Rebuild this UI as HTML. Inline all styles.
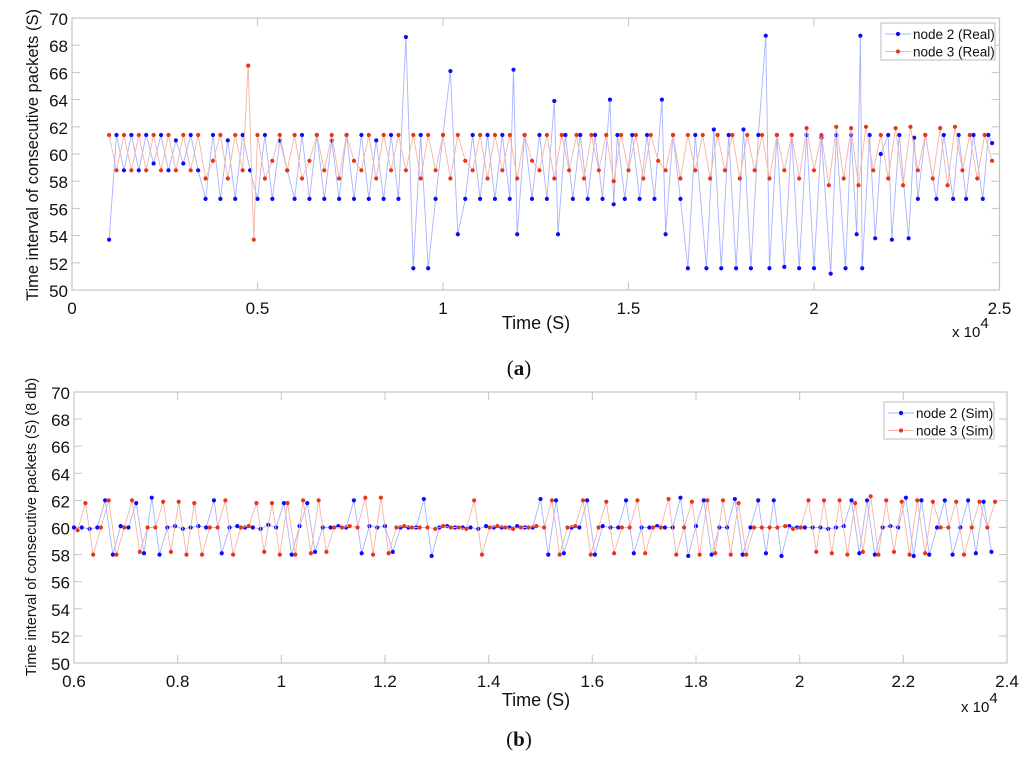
<!DOCTYPE html>
<html><head><meta charset="utf-8">
<style>
html,body{margin:0;padding:0;background:#fff;}
svg{display:block;font-family:"Liberation Sans",sans-serif;}
</style></head>
<body>
<svg id="fig" width="1024" height="769" viewBox="0 0 1024 769" xmlns="http://www.w3.org/2000/svg"></svg>
<script>
// ---------- Panel (a) data: real measurements ----------
const realNode2Times = [0.10,0.12,0.14,0.16,0.18,0.20,0.22,0.24,0.26,0.28,0.30,0.32,0.34,0.36,0.38,0.40,0.42,0.44,0.46,0.48,0.50,0.52,0.54,0.56,0.58,0.60,0.62,0.64,0.66,0.68,0.70,0.72,0.74,0.76,0.78,0.80,0.82,0.84,0.86,0.88,0.90,0.92,0.94,0.96,0.98,1.00,1.02,1.04,1.06,1.08,1.10,1.12,1.14,1.16,1.18,1.19,1.20,1.22,1.24,1.26,1.28,1.30,1.31,1.33,1.35,1.37,1.39,1.41,1.43,1.45,1.46,1.47,1.49,1.51,1.53,1.55,1.57,1.59,1.60,1.62,1.64,1.66,1.68,1.71,1.73,1.75,1.77,1.79,1.81,1.83,1.85,1.87,1.88,1.90,1.92,1.94,1.96,1.98,2.00,2.02,2.045,2.06,2.085,2.10,2.115,2.125,2.13,2.15,2.165,2.18,2.20,2.21,2.23,2.255,2.27,2.28,2.30,2.33,2.35,2.375,2.39,2.41,2.43,2.455,2.47,2.48];
const realNode2Values = [53.7,61.4,58.8,61.4,58.8,61.4,59.3,61.4,58.8,61.0,59.3,61.4,58.8,56.7,61.4,56.7,61.0,56.7,61.4,58.8,56.7,61.4,56.7,61.0,58.8,56.7,61.4,56.7,61.4,56.7,61.0,56.7,61.4,56.7,61.4,56.7,61.0,56.7,61.4,56.7,68.6,51.6,61.4,51.6,56.7,61.4,66.1,54.1,56.7,61.4,56.7,61.4,56.7,61.4,56.7,66.2,54.1,61.4,56.7,61.4,56.7,63.9,54.1,61.4,56.7,61.4,56.7,61.4,56.7,64.0,56.3,61.4,56.7,61.4,56.7,61.4,56.7,64.0,54.1,61.4,56.7,51.6,61.4,51.6,61.8,51.6,61.4,51.6,61.8,51.6,61.4,68.7,51.6,61.4,51.7,61.4,51.6,61.4,51.6,61.2,51.2,61.4,51.6,61.4,54.1,68.7,51.6,61.4,53.8,60.0,61.4,53.7,61.4,53.8,61.2,56.7,61.4,56.7,61.4,56.7,61.4,56.7,61.4,56.7,61.4,60.8];
const realNode3Times = [0.10,0.12,0.14,0.16,0.18,0.20,0.22,0.24,0.26,0.28,0.30,0.32,0.34,0.36,0.38,0.40,0.42,0.44,0.46,0.475,0.49,0.50,0.52,0.54,0.56,0.58,0.60,0.62,0.64,0.66,0.68,0.70,0.72,0.74,0.76,0.78,0.80,0.82,0.84,0.86,0.88,0.90,0.92,0.94,0.96,0.98,1.00,1.02,1.04,1.06,1.08,1.10,1.12,1.14,1.16,1.18,1.20,1.22,1.24,1.26,1.28,1.30,1.32,1.34,1.36,1.38,1.40,1.42,1.44,1.46,1.48,1.50,1.52,1.54,1.56,1.58,1.60,1.62,1.64,1.66,1.68,1.70,1.72,1.74,1.76,1.78,1.80,1.82,1.84,1.86,1.88,1.90,1.92,1.94,1.96,1.98,2.00,2.02,2.04,2.06,2.08,2.10,2.12,2.14,2.16,2.18,2.20,2.22,2.24,2.26,2.28,2.30,2.32,2.34,2.36,2.38,2.40,2.42,2.44,2.46,2.48];
const realNode3Values = [61.4,58.8,61.4,58.8,61.4,58.8,61.4,58.8,61.4,58.8,61.4,58.8,61.4,58.2,59.5,61.4,58.2,61.4,58.8,66.5,53.7,61.4,58.2,59.5,61.4,58.8,61.4,58.2,59.5,61.4,58.8,61.4,58.2,61.4,59.5,58.8,61.4,58.2,61.4,58.8,61.4,58.8,61.4,58.2,61.4,58.8,61.4,58.2,61.4,59.5,58.8,61.4,58.2,61.4,58.8,61.4,58.2,61.4,59.5,58.8,61.4,58.2,61.4,58.8,61.4,58.2,61.4,58.8,61.4,58.0,61.4,58.8,61.4,58.2,61.4,59.5,58.8,61.4,58.2,61.4,58.8,61.4,58.2,61.4,58.8,61.4,58.2,61.4,58.8,61.4,58.2,61.4,58.8,61.4,58.2,61.9,58.8,61.4,57.7,62.0,58.2,61.9,57.7,62.0,58.8,61.4,58.2,61.9,57.7,62.0,58.8,61.4,58.2,61.9,57.7,62.0,58.8,61.4,58.2,61.4,59.5];
const realXTicks = [0,0.5,1,1.5,2,2.5];
const realXTickLabels = ["0","0.5","1","1.5","2","2.5"];

// ---------- Panel (b) data: simulation ----------
const simNode2Times = [0.600,0.615,0.630,0.645,0.660,0.675,0.690,0.705,0.720,0.735,0.750,0.765,0.780,0.795,0.810,0.825,0.840,0.855,0.870,0.885,0.900,0.915,0.930,0.945,0.960,0.975,0.990,1.005,1.020,1.035,1.050,1.065,1.080,1.095,1.110,1.125,1.140,1.155,1.170,1.185,1.200,1.215,1.230,1.245,1.260,1.275,1.290,1.305,1.320,1.335,1.350,1.365,1.380,1.395,1.410,1.425,1.440,1.455,1.470,1.485,1.500,1.515,1.530,1.545,1.560,1.575,1.590,1.605,1.620,1.635,1.650,1.665,1.680,1.695,1.710,1.725,1.740,1.755,1.770,1.785,1.800,1.815,1.830,1.845,1.860,1.875,1.890,1.905,1.920,1.935,1.950,1.965,1.980,1.995,2.010,2.025,2.040,2.055,2.070,2.085,2.100,2.115,2.130,2.145,2.160,2.175,2.190,2.205,2.220,2.235,2.250,2.265,2.280,2.295,2.310,2.325,2.340,2.355,2.370];
const simNode2Values = [60.0,60.0,59.9,60.0,62.0,58.0,60.1,60.0,61.8,58.1,62.2,58.0,60.0,60.1,59.9,60.0,60.1,60.0,62.0,58.1,60.0,60.1,60.0,60.0,59.9,60.2,60.0,61.8,58.0,60.1,61.8,58.2,60.0,60.0,60.1,60.0,62.0,58.1,60.1,60.0,60.1,58.2,60.0,60.0,60.0,62.1,57.9,60.0,60.1,60.0,60.0,60.0,59.9,60.1,60.0,60.0,60.0,60.1,60.0,60.0,62.1,58.0,62.0,58.1,60.0,60.0,62.0,58.0,60.1,60.0,60.0,62.0,58.1,60.0,60.0,60.1,60.0,60.0,62.2,57.9,60.1,62.0,58.0,60.0,60.0,62.1,58.0,60.0,62.0,58.1,62.0,57.9,60.1,60.0,60.0,60.0,60.0,59.9,60.0,60.1,62.0,58.1,62.0,58.0,60.0,60.1,60.0,62.2,57.9,62.0,58.0,60.0,62.0,58.0,60.0,62.0,58.1,61.9,58.2];
const simNode3Times = [0.607,0.622,0.637,0.652,0.667,0.682,0.697,0.712,0.727,0.742,0.757,0.772,0.787,0.802,0.817,0.832,0.847,0.862,0.877,0.892,0.907,0.922,0.937,0.952,0.967,0.982,0.997,1.012,1.027,1.042,1.057,1.072,1.087,1.102,1.117,1.132,1.147,1.162,1.177,1.192,1.207,1.222,1.237,1.252,1.267,1.282,1.297,1.312,1.327,1.342,1.357,1.372,1.387,1.402,1.417,1.432,1.447,1.462,1.477,1.492,1.507,1.522,1.537,1.552,1.567,1.582,1.597,1.612,1.627,1.642,1.657,1.672,1.687,1.702,1.717,1.732,1.747,1.762,1.777,1.792,1.807,1.822,1.837,1.852,1.867,1.882,1.897,1.912,1.927,1.942,1.957,1.972,1.987,2.002,2.017,2.032,2.047,2.062,2.077,2.092,2.107,2.122,2.137,2.152,2.167,2.182,2.197,2.212,2.227,2.242,2.257,2.272,2.287,2.302,2.317,2.332,2.347,2.362,2.377];
const simNode3Values = [59.8,61.8,58.0,60.0,62.0,58.0,60.0,62.0,58.2,60.0,60.0,61.9,58.2,61.9,58.0,61.8,58.0,60.0,60.0,62.0,58.0,60.0,60.1,61.8,58.2,61.8,58.0,61.8,58.0,62.0,58.1,62.0,58.2,60.0,60.0,60.1,60.0,62.2,58.0,62.2,58.1,60.0,60.1,60.0,60.0,60.0,59.9,60.1,60.0,60.0,59.9,62.0,58.0,60.0,60.1,60.0,59.9,60.0,60.0,60.1,60.0,62.0,58.0,60.0,60.1,62.0,58.0,60.0,61.9,58.1,60.0,60.0,62.0,58.1,60.0,60.0,62.1,58.0,60.0,61.9,58.0,62.0,58.1,62.0,58.0,61.8,58.0,60.0,60.0,60.0,60.0,60.1,59.9,60.0,62.0,58.2,62.0,58.1,62.0,58.0,61.8,58.2,62.3,58.0,62.0,58.2,61.9,58.0,62.0,58.1,61.9,60.0,60.0,61.9,58.0,60.0,61.9,60.0,61.9];
const simXTicks = [0.6,0.8,1,1.2,1.4,1.6,1.8,2,2.2,2.4];
const simXTickLabels = ["0.6","0.8","1","1.2","1.4","1.6","1.8","2","2.2","2.4"];
const yTicks = [50,52,54,56,58,60,62,64,66,68,70];

const NS = "http://www.w3.org/2000/svg";
const svg = document.getElementById('fig');
function mk(tag, attrs, parent, text){
  const e = document.createElementNS(NS, tag);
  for (const k in attrs) e.setAttribute(k, attrs[k]);
  if (text !== undefined) e.textContent = text;
  (parent || svg).appendChild(e);
  return e;
}

function panel(cfg){
  const g = mk('g', {});
  
  
  const xs = t => cfg.x0 + (t - cfg.tmin) / (cfg.tmax - cfg.tmin) * (cfg.x1 - cfg.x0);
  const ys = v => cfg.y1 - (v - 50) / 20 * (cfg.y1 - cfg.y0);
  const frame = mk('rect', {x:cfg.x0, y:cfg.y0, width:cfg.x1-cfg.x0, height:cfg.y1-cfg.y0, fill:'#fff', stroke:'#c4c4c4', 'stroke-width':1.2}, g);
  
  
  // x ticks
  cfg.xticks.forEach((t, i) => {
    const x = xs(t);
    mk('line', {x1:x, x2:x, y1:cfg.y1, y2:cfg.y1-8, stroke:'#c4c4c4'}, g);
    mk('line', {x1:x, x2:x, y1:cfg.y0, y2:cfg.y0+8, stroke:'#c4c4c4'}, g);
    const lb = mk('text', {x:x, y:cfg.y1+24, 'text-anchor':'middle', 'font-size':cfg.tickFont, fill:'#111'}, g, cfg.xlabels[i]);
    
    
  });
  yTicks.forEach(v => {
    const y = ys(v);
    mk('line', {x1:cfg.x0, x2:cfg.x0+8, y1:y, y2:y, stroke:'#c4c4c4'}, g);
    mk('line', {x1:cfg.x1, x2:cfg.x1-8, y1:y, y2:y, stroke:'#c4c4c4'}, g);
    const lb = mk('text', {x:cfg.x0-4, y:y+7, 'text-anchor':'end', 'font-size':cfg.tickFont, fill:'#111'}, g, String(v));
    
    
  });
  // series
  cfg.series.forEach(s => {
    const sg = mk('g', {}, g);
    
    
    const pts = s.t.map((t, i) => xs(t).toFixed(1) + ',' + ys(s.v[i]).toFixed(1)).join(' ');
    mk('polyline', {points:pts, fill:'none', stroke:s.line, 'stroke-width':0.9}, sg);
    s.t.forEach((t, i) => {
      const c = mk('circle', {cx:xs(t), cy:ys(s.v[i]), r:2.1, fill:s.mark}, sg);
      
      
    });
  });
  // legend
  const lg = mk('g', {}, g);
  
  
  const L = cfg.legend;
  mk('rect', {x:L.x, y:L.y, width:L.w, height:L.h, fill:'#fff', stroke:'#bdbdbd'}, lg);
  cfg.series.forEach((s, i) => {
    const yy = L.y + 11 + i * 17.5;
    const le = mk('g', {}, lg);
    
    
    mk('line', {x1:L.x+4, x2:L.x+30, y1:yy, y2:yy, stroke:s.line, 'stroke-width':1}, le);
    mk('circle', {cx:L.x+17, cy:yy, r:2.1, fill:s.mark}, le);
    mk('text', {x:L.x+32, y:yy+5, 'font-size':13.5, fill:'#111'}, le, s.label);
  });
  // axis titles
  const xt = mk('text', {x:cfg.xtitle[0], y:cfg.xtitle[1], 'text-anchor':'middle', 'font-size':18, fill:'#111'}, g, 'Time (S)');
  
  
  const yt = mk('text', {x:0, y:0, 'text-anchor':'middle', 'font-size':cfg.ytitleFont, fill:'#111', transform:'translate(' + cfg.ytitle[0] + ',' + cfg.ytitle[1] + ') rotate(-90)'}, g, cfg.ytitleText);
  
  
  const ex = mk('text', {x:cfg.exp[0], y:cfg.exp[1], 'font-size':15, fill:'#111'}, g);
  
  
  mk('tspan', {}, ex, 'x 10');
  mk('tspan', {dy:-9, 'font-size':15}, ex, '4');
  const cap = mk('text', {x:cfg.cap[0], y:cfg.cap[1], 'text-anchor':'middle', 'font-size':21, 'font-family':'"Liberation Serif",serif', fill:'#111'}, g);
  
  
  mk('tspan', {}, cap, '(');
  mk('tspan', {'font-weight':'bold'}, cap, cfg.capLetter);
  mk('tspan', {}, cap, ')');
}

panel({
  name:'chart-real', x0:72, x1:999.5, y0:18, y1:290, tmin:0, tmax:2.5,
  xticks:realXTicks, xlabels:realXTickLabels, tickFont:17,
  series:[
    {name:'series-node2-real', t:realNode2Times, v:realNode2Values, mark:'#0a0aff', line:'#aab2ff', label:'node 2 (Real)'},
    {name:'series-node3-real', t:realNode3Times, v:realNode3Values, mark:'#e8361a', line:'#f5b4a4', label:'node 3 (Real)'}
  ],
  legend:{x:881, y:23, w:114, h:37},
  xtitle:[536,329], ytitle:[38,155], ytitleFont:16.5, ytitleText:'Time interval of consecutive packets (S)',
  exp:[952,337], cap:[519,375], capLetter:'a'
});
panel({
  name:'chart-sim', x0:74, x1:1007, y0:392, y1:663, tmin:0.6, tmax:2.4,
  xticks:simXTicks, xlabels:simXTickLabels, tickFont:17,
  series:[
    {name:'series-node2-sim', t:simNode2Times, v:simNode2Values, mark:'#0a0aff', line:'#aab2ff', label:'node 2 (Sim)'},
    {name:'series-node3-sim', t:simNode3Times, v:simNode3Values, mark:'#e8361a', line:'#f5b4a4', label:'node 3 (Sim)'}
  ],
  legend:{x:884, y:402, w:110, h:37},
  xtitle:[536,706], ytitle:[36,527], ytitleFont:14.5, ytitleText:'Time interval of consecutive packets (S) (8 db)',
  exp:[961,712], cap:[519,746], capLetter:'b'
});
</script>
</body></html>
